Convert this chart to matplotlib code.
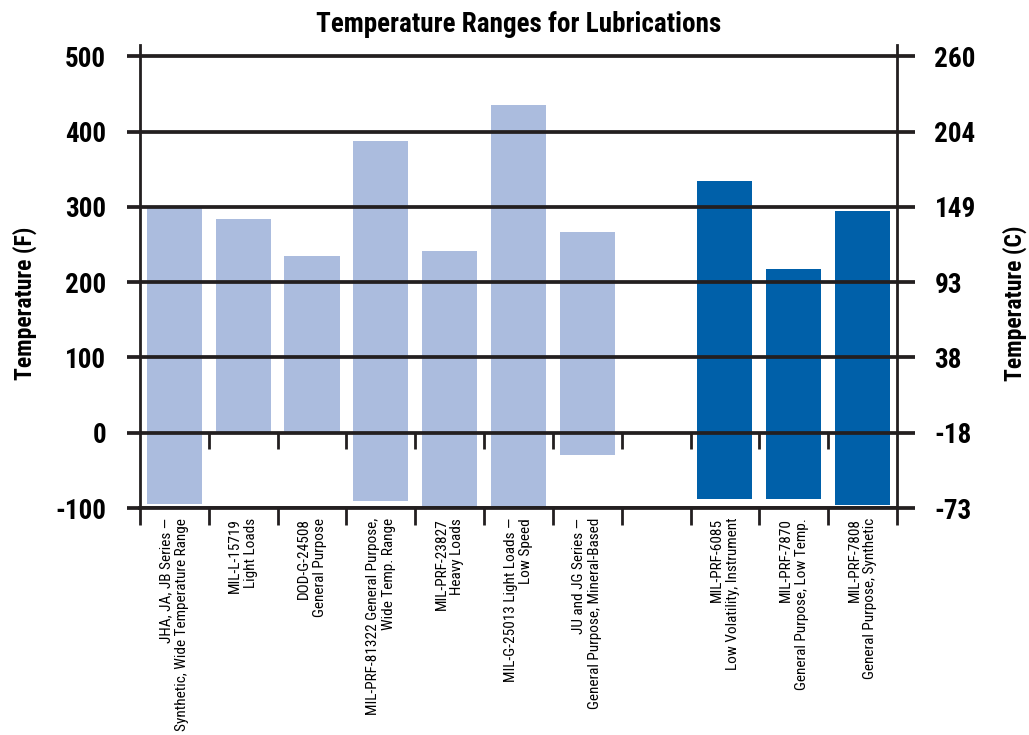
import numpy as np
import matplotlib.pyplot as plt

# lubricant groups, values (deg F)
categories = [
    'JHA, JA, JB Series \u2014\nSynthetic, Wide Temperature Range',
    'MIL-L-15719\nLight Loads',
    'DOD-G-24508\nGeneral Purpose',
    'MIL-PRF-81322 General Purpose,\nWide Temp. Range',
    'MIL-PRF-23827\nHeavy Loads',
    'MIL-G-25013 Light Loads \u2014\nLow Speed',
    'JU and JG Series \u2014\nGeneral Purpose, Mineral-Based',
    '',
    'MIL-PRF-6085\nLow Volatility, Instrument',
    'MIL-PRF-7870\nGeneral Purpose, Low Temp.',
    'MIL-PRF-7808\nGeneral Purpose, Synthetic',
]
low_f = [-94, 0, 0, -90, -100, -100, -30, np.nan, -88, -88, -96]
high_f = [300, 284, 235, 387, 241, 435, 266, np.nan, 335, 218, 295]
groups = ['grease'] * 7 + [''] + ['oil'] * 3

f_ticks = [-100, 0, 100, 200, 300, 400, 500]
c_labels = ['-73', '-18', '38', '93', '149', '204', '260']

colors = {'grease': '#abbcde', 'oil': '#0060a9', '': 'none'}
line_col = '#231f20'

plt.rcParams['font.family'] = ['Roboto Condensed', 'Liberation Sans', 'DejaVu Sans']

fig = plt.figure(figsize=(10.29, 7.35), dpi=100)
ax = fig.add_axes([0.136, 0.3088, 0.7357, 0.63])

x = np.arange(len(categories))
low = np.array(low_f, dtype=float)
high = np.array(high_f, dtype=float)
ax.bar(x, high - low, bottom=low, width=0.8,
       color=[colors[g] for g in groups], zorder=2)

# heavy horizontal rules drawn on top of bars
for t in f_ticks:
    ax.axhline(t, color=line_col, lw=2.7, zorder=3)

# little ticks hanging under the zero line
bounds = np.arange(len(categories) + 1) - 0.5
ax.vlines(bounds[1:-1], -22, 0, color=line_col, lw=2.0, zorder=3)

ax.set_xlim(-0.5, len(categories) - 0.5)
ax.set_ylim(-100, 515)

ax.spines['top'].set_visible(False)
ax.spines['bottom'].set_linewidth(2.7)
ax.spines['bottom'].set_color(line_col)
for s in ['left', 'right']:
    ax.spines[s].set_linewidth(2.0)
    ax.spines[s].set_color(line_col)

ax.set_yticks(f_ticks)
ax.set_yticklabels([str(t) for t in f_ticks], fontsize=19.5, fontweight='bold')
ax.tick_params(axis='y', direction='out', length=9.5, width=2.7, color=line_col, pad=15)

ax.set_xticks(x)
ax.set_xticklabels(categories, rotation=90, fontsize=11, ha='center', va='top',
                   multialignment='right', linespacing=1.15)
ax.set_xticks(bounds, minor=True)
ax.tick_params(axis='x', which='major', length=0, pad=7)
ax.tick_params(axis='x', which='minor', direction='out', length=12, width=2.0, color=line_col)

ax.set_ylabel('Temperature (F)', fontsize=17, fontweight='bold')
ax.yaxis.set_label_coords(-0.136, 0.443)
ax.set_title('Temperature Ranges for Lubrications', fontsize=19.5, fontweight='bold', pad=9)

ax2 = ax.twinx()
ax2.set_ylim(ax.get_ylim())
ax2.set_yticks(f_ticks)
ax2.set_yticklabels(c_labels, fontsize=19.5, fontweight='bold')
ax2.tick_params(axis='y', direction='out', length=13, width=2.7, color=line_col, pad=14)
for s in ['top', 'left', 'right', 'bottom']:
    ax2.spines[s].set_visible(False)
ax2.set_ylabel('Temperature (C)', fontsize=17, fontweight='bold')
ax2.yaxis.set_label_coords(1.139, 0.443)

fig.savefig('out.png', dpi=100)
